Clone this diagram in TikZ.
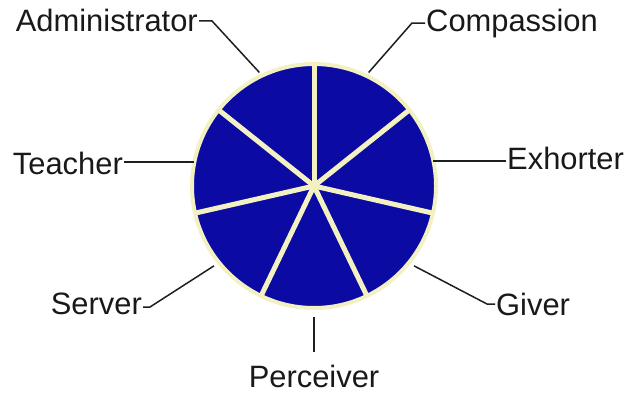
\documentclass[tikz,border=0pt]{standalone}
\usepackage{fontspec}
\setmainfont{Liberation Sans}
\usepackage{tikz}
\usetikzlibrary{calc}
\definecolor{pieblue}{HTML}{0B0BA4}
\definecolor{piecream}{HTML}{F3F1C2}
\definecolor{leadgray}{HTML}{1E1E1E}

\begin{document}
\begin{tikzpicture}[x=1bp, y=1bp,
    wedge/.style={fill=pieblue, draw=piecream, line width=4bp},
    spoke/.style={draw=piecream, line width=5bp},
    gift/.style={font=\fontsize{31}{37}\selectfont, text=black!90, inner sep=1bp},
    leader/.style={draw=leadgray, line width=1.5bp}
  ]
  \useasboundingbox (0,0) rectangle (624,395);
  \coordinate (c) at (314,209);

  % Pie
  \draw[wedge] (c) circle (122);
  \foreach \k in {0,...,6}
    \draw[spoke] (c) -- ++({90+\k*360/7}:121);

  % Rim points for the leaders
  \foreach \name/\ang/\r in {adm/115.7/126, cmp/64.3/126, exh/12.9/122, gvr/-38.6/128,
                             prc/-90/131, srv/-141.4/128, tch/167.1/123}
    \coordinate (r-\name) at ($(c)+(\ang:\r)$);

  % Labels
  \node[gift, anchor=base east] (adm) at (199,364) {Administrator};
  \node[gift, anchor=base west] (cmp) at (425,364) {Compassion};
  \node[gift, anchor=east] (tch) at (124,232) {Teacher};
  \node[gift, anchor=west] (exh) at (506,237) {Exhorter};
  \node[gift, anchor=east] (srv) at (143,91) {Server};
  \node[gift, anchor=west] (gvr) at (495,91) {Giver};
  \node[gift, anchor=north] (prc) at (314,31) {Perceiver};

  % Leaders
  \draw[leader] ([yshift=-1bp]adm.east) -- ++(13,0) -- (r-adm);
  \draw[leader] (cmp.west) -- ++(-13,0) -- (r-cmp);
  \draw[leader] ([yshift=1bp]tch.east) -- ([yshift=1bp]tch.east -| r-tch);
  \draw[leader] ([yshift=-3bp]exh.west) -- ([yshift=-3bp]exh.west -| r-exh);
  \draw[leader] ([yshift=-3bp]srv.east) -- ++(7,0) -- (r-srv);
  \draw[leader] (gvr.west) -- ++(-8,0) -- (r-gvr);
  \draw[leader] (r-prc) -- ([yshift=12bp]prc.north);
\end{tikzpicture}
\end{document}
